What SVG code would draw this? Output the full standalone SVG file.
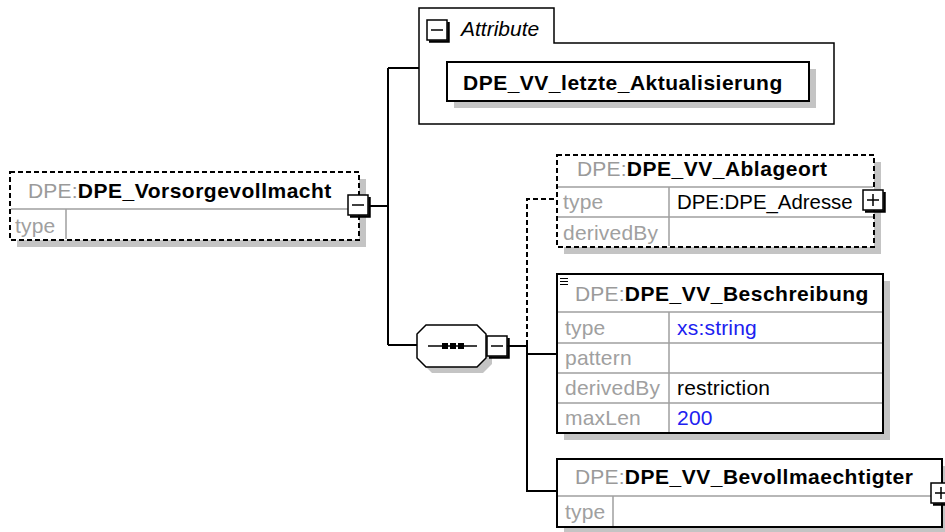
<svg xmlns="http://www.w3.org/2000/svg" xmlns:xlink="http://www.w3.org/1999/xlink" width="945" height="532" viewBox="0 0 945 532">
<defs>
<style>
text{font-family:"Liberation Sans",Arial,sans-serif;font-size:21px;}
.bold{font-weight:bold;fill:#000;letter-spacing:0.5px;}
.pre{fill:#9a9a9a;font-weight:normal;letter-spacing:0.2px;}
.lab{fill:#a0a0a0;letter-spacing:0.2px;}
.val{fill:#000;letter-spacing:0.2px;}
.blue{fill:#2020f0;letter-spacing:0.2px;}
.shadow{fill:#c4c4c4;}
.box{fill:#fff;stroke:#000;stroke-width:2;}
.dbox{fill:#fff;stroke:#000;stroke-width:2;stroke-dasharray:5 3;}
.grid{stroke:#a0a0a0;stroke-width:1.5;fill:none;}
.conn{stroke:#000;stroke-width:2;fill:none;}
.dconn{stroke:#000;stroke-width:2;fill:none;stroke-dasharray:5 3;}
</style>
<g id="minus"><rect x="0" y="0" width="20" height="20" fill="#fff" stroke="#000" stroke-width="1.5"/><path d="M21.5 2 V21.5 H2" stroke="#000" stroke-width="2.5" fill="none"/><path d="M4 10 H16" stroke="#000" stroke-width="1.5"/></g>
<g id="plus"><rect x="0" y="0" width="20" height="20" fill="#fff" stroke="#000" stroke-width="1.5"/><path d="M21.5 2 V21.5 H2" stroke="#000" stroke-width="2.5" fill="none"/><path d="M4 10 H16 M10 4 V16" stroke="#000" stroke-width="1.5"/></g>
</defs>
<rect width="945" height="532" fill="#fff"/>

<g id="connectors">
<path class="conn" d="M370 206 H388 M388 68 V345 M388 68 H419 M388 345 H417"/>
<path class="conn" d="M507 346 H527 V491 H557 M527 354 H557"/>
<path class="dconn" d="M527 345 V199 H557"/>
</g>

<g id="node-main">
<rect class="shadow" x="17" y="179" width="349" height="68"/>
<rect class="dbox" x="10" y="172" width="349" height="68"/>
<path class="grid" d="M11 209 H358 M66 209 V239"/>
<text x="28" y="198"><tspan class="pre">DPE:</tspan><tspan class="bold">DPE_Vorsorgevollmacht</tspan></text>
<text class="lab" x="15" y="233">type</text>
<use xlink:href="#minus" x="348" y="195"/>
</g>

<g id="node-attributes">
<path fill="#fff" stroke="#000" stroke-width="1.5" d="M419 124 V8 H554 V43 H834 V124 Z"/>
<use xlink:href="#minus" x="427" y="20"/>
<text x="461" y="36" font-style="italic">Attribute</text>
<rect class="shadow" x="454" y="69" width="362" height="39"/>
<rect class="box" x="447" y="62" width="362" height="39"/>
<text class="bold" x="463" y="90">DPE_VV_letzte_Aktualisierung</text>
</g>

<g id="node-sequence">
<path class="shadow" d="M432 331 H483 L492 340 V364 L483 373 H432 L423 364 V340 Z"/>
<path fill="#fff" stroke="#000" stroke-width="1.5" d="M426 325 H477 L486 334 V358 L477 367 H426 L417 358 V334 Z"/>
<path d="M428 346 H477" stroke="#000" stroke-width="1.5"/>
<rect x="442" y="343" width="6" height="6" fill="#000"/>
<rect x="450" y="343" width="6" height="6" fill="#000"/>
<rect x="458" y="343" width="6" height="6" fill="#000"/>
<use xlink:href="#minus" x="487" y="336"/>
</g>

<g id="node-ablageort">
<rect class="shadow" x="564" y="162" width="317" height="92"/>
<rect class="dbox" x="557" y="155" width="317" height="92"/>
<path class="grid" d="M558 187 H873 M558 217 H873 M669 187 V246"/>
<text x="577" y="176"><tspan class="pre">DPE:</tspan><tspan class="bold">DPE_VV_Ablageort</tspan></text>
<text class="lab" x="563" y="209">type</text>
<text x="677" y="209" style="font-size:20.4px;fill:#000">DPE:DPE_Adresse</text>
<text class="lab" x="563" y="240">derivedBy</text>
<use xlink:href="#plus" x="863" y="190"/>
</g>

<g id="node-beschreibung">
<rect class="shadow" x="564" y="281" width="326" height="159"/>
<rect class="box" x="557" y="274" width="326" height="159"/>
<path class="grid" d="M558 312 H882 M558 343 H882 M558 373 H882 M558 403 H882 M669 312 V432"/>
<path d="M560 278.5 H568 M560 281.5 H568 M560 284.5 H568" stroke="#000" stroke-width="1.2"/>
<text x="575" y="301"><tspan class="pre">DPE:</tspan><tspan class="bold">DPE_VV_Beschreibung</tspan></text>
<text class="lab" x="565" y="335">type</text>
<text class="blue" x="677" y="335">xs:string</text>
<text class="lab" x="565" y="365">pattern</text>
<text class="lab" x="565" y="395">derivedBy</text>
<text class="val" x="677" y="395">restriction</text>
<text class="lab" x="565" y="425">maxLen</text>
<text class="blue" x="677" y="425">200</text>
</g>

<g id="node-bevollmaechtigter">
<rect class="shadow" x="564" y="466" width="385" height="68"/>
<rect class="box" x="557" y="459" width="385" height="68"/>
<path class="grid" d="M558 496 H941 M613 496 V526"/>
<text x="575" y="484"><tspan class="pre">DPE:</tspan><tspan class="bold">DPE_VV_Bevollmaechtigter</tspan></text>
<text class="lab" x="565" y="519">type</text>
<use xlink:href="#plus" x="931" y="483"/>
</g>
</svg>
